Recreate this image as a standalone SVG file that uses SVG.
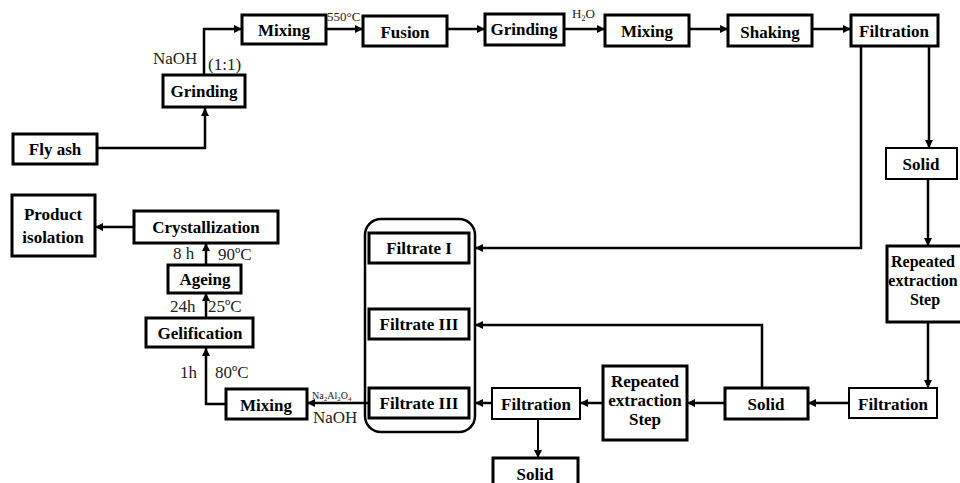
<svg xmlns="http://www.w3.org/2000/svg" width="960" height="483" viewBox="0 0 960 483">
<defs>
<marker id="ah" markerUnits="userSpaceOnUse" markerWidth="10" markerHeight="10" refX="8" refY="4" orient="auto">
<path d="M0,0 L8,4 L0,8 z" fill="#000"/>
</marker>
</defs>
<style>
.box{fill:#fff;stroke:#000;stroke-width:3}
.thin{fill:#fff;stroke:#000;stroke-width:2}
.t{font-family:'Liberation Serif','DejaVu Serif',serif;font-weight:bold;font-size:17px;text-anchor:middle;fill:#000}
.l{font-family:'Liberation Serif','DejaVu Serif',serif;font-size:17px;fill:#222}
.s{font-family:'Liberation Serif','DejaVu Serif',serif;font-size:13px;fill:#222}
.c{fill:none;stroke:#000;stroke-width:2.5;marker-end:url(#ah)}
</style>
<rect width="960" height="483" fill="#fff"/>
<g id="container"><rect x="365" y="219" width="110" height="213" rx="16" fill="none" stroke="#000" stroke-width="2.5"/></g>
<g id="connectors">
<path class="c" d="M97,148 H205 V108"/>
<path class="c" d="M204,75 V29 H242"/>
<path class="c" d="M326,29 H363"/>
<path class="c" d="M447,29 H485"/>
<path class="c" d="M564,29 H605"/>
<path class="c" d="M689,29 H728"/>
<path class="c" d="M812,29 H851"/>
<path class="c" d="M929,46 V148"/>
<path class="c" d="M861,46 V248 H475"/>
<path class="c" d="M928,179 V246"/>
<path class="c" d="M928,322 V388"/>
<path class="c" d="M849,403 H808"/>
<path class="c" d="M762,388 V325 H475"/>
<path class="c" d="M725,403 H687"/>
<path class="c" d="M603,403 H580"/>
<path class="c" d="M538,419 V458" style="stroke-width:2"/>
<path class="c" d="M492,403 H475"/>
<path class="c" d="M369,403 H307"/>
<path class="c" d="M226,404 H206 V348"/>
<path class="c" d="M206,318 V293"/>
<path class="c" d="M206,265 V243"/>
<path class="c" d="M134,227 H95"/>
</g>
<g id="flyash"><rect class="box" x="13" y="134" width="84" height="30"/><text class="t" x="55" y="155">Fly ash</text></g>
<g id="grinding1"><rect class="box" x="163" y="75" width="82" height="32"/><text class="t" x="204" y="97">Grinding</text></g>
<g id="mixing1"><rect class="box" x="242" y="15" width="84" height="29"/><text class="t" x="284" y="36">Mixing</text></g>
<g id="fusion"><rect class="box" x="363" y="16" width="84" height="30"/><text class="t" x="405" y="38">Fusion</text></g>
<g id="grinding2"><rect class="box" x="485" y="14" width="79" height="31"/><text class="t" x="524" y="35">Grinding</text></g>
<g id="mixing2"><rect class="box" x="605" y="15" width="84" height="31"/><text class="t" x="647" y="37">Mixing</text></g>
<g id="shaking"><rect class="box" x="728" y="15" width="84" height="31"/><text class="t" x="770" y="38">Shaking</text></g>
<g id="filtration1"><rect class="box" x="851" y="15" width="87" height="31"/><text class="t" x="894" y="37">Filtration</text></g>
<g id="solid1"><rect class="thin" x="886" y="148" width="71" height="31"/><text class="t" x="921" y="170">Solid</text></g>
<g id="repeated1"><rect class="box" x="887" y="246" width="80" height="76"/><text class="t" x="923" y="267" style="font-size:16px">Repeated</text><text class="t" x="923" y="286" style="font-size:16px">extraction</text><text class="t" x="925" y="305" style="font-size:16px">Step</text></g>
<g id="filtration2"><rect class="thin" x="849" y="388" width="88" height="30"/><text class="t" x="893" y="410">Filtration</text></g>
<g id="solid2"><rect class="box" x="725" y="388" width="83" height="31"/><text class="t" x="766" y="410">Solid</text></g>
<g id="repeated2"><rect class="box" x="603" y="366" width="84" height="74"/><text class="t" x="645" y="387">Repeated</text><text class="t" x="645" y="406">extraction</text><text class="t" x="645" y="425">Step</text></g>
<g id="filtration3"><rect class="thin" x="492" y="388" width="88" height="31"/><text class="t" x="536" y="410">Filtration</text></g>
<g id="solid3"><rect class="box" x="493" y="458" width="85" height="32"/><text class="t" x="535" y="480">Solid</text></g>
<g id="filtrate1"><rect class="box" x="369" y="233" width="100" height="30"/><text class="t" x="419" y="254">Filtrate I</text></g>
<g id="filtrate3a"><rect class="box" x="369" y="309" width="100" height="30"/><text class="t" x="419" y="330">Filtrate III</text></g>
<g id="filtrate3b"><rect class="box" x="369" y="388" width="100" height="30"/><text class="t" x="419" y="409">Filtrate III</text></g>
<g id="mixing3"><rect class="box" x="226" y="389" width="81" height="30"/><text class="t" x="266" y="411">Mixing</text></g>
<g id="gelification"><rect class="box" x="146" y="318" width="107" height="29"/><text class="t" x="200" y="339">Gelification</text></g>
<g id="ageing"><rect class="box" x="168" y="265" width="73" height="28"/><text class="t" x="205" y="285">Ageing</text></g>
<g id="crystallization"><rect class="box" x="134" y="211" width="144" height="32"/><text class="t" x="206" y="233">Crystallization</text></g>
<g id="product"><rect class="box" x="12" y="195" width="83" height="61"/><text class="t" x="53" y="220">Product</text><text class="t" x="53" y="243">isolation</text></g>
<g id="labels">
<text class="l" x="153" y="64">NaOH</text>
<text class="l" x="208" y="70">(1:1)</text>
<text class="s" x="327" y="21">550°C</text>
<text class="s" x="572" y="18">H<tspan font-size="8" dy="3">2</tspan><tspan dy="-3">O</tspan></text>
<text class="l" x="173" y="259">8 h</text>
<text class="l" x="218" y="260">90ºC</text>
<text class="l" x="170" y="312">24h</text>
<text class="l" x="208" y="312">25ºC</text>
<text class="l" x="180" y="378">1h</text>
<text class="l" x="215" y="378">80ºC</text>
<text class="s" x="312" y="399" style="font-size:10px">Na<tspan font-size="7" dy="2">2</tspan><tspan dy="-2">Al</tspan><tspan font-size="7" dy="2">2</tspan><tspan dy="-2">O</tspan><tspan font-size="7" dy="2">4</tspan></text>
<text class="l" x="313" y="423">NaOH</text>
</g>
</svg>
